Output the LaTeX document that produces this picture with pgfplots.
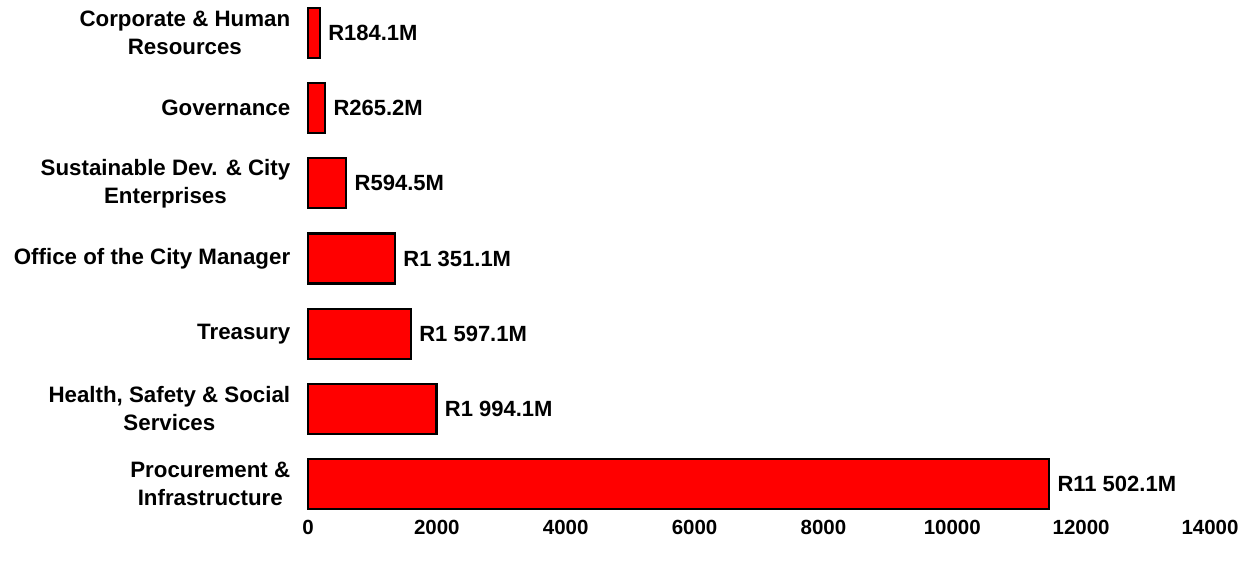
\documentclass[border=0pt]{standalone}
\usepackage{pgfplots}
\pgfplotsset{compat=1.18}
\usepackage{pgfplotstable}
\usepackage{fontspec}
\setmainfont{Liberation Sans}
\pgfplotstableread[col sep=comma]{
idx,val,lab
0,11502.1,R11 502.1M
1,1994.1,R1 994.1M
2,1597.1,R1 597.1M
3,1351.1,R1 351.1M
4,594.5,R594.5M
5,265.2,R265.2M
6,184.1,R184.1M
}\datatable
\begin{document}
\begin{tikzpicture}
\begin{axis}[
  at={(0pt,0pt)}, anchor=south west,
  scale only axis,
  width=902pt, height=511pt,
  xbar, bar width=50pt,
  xmin=0, xmax=14000,
  ymin=-0.4, ymax=6.4,
  xtick={0,2000,4000,6000,8000,10000,12000,14000},
  ytick={0,1,2,3,4,5,6},
  yticklabels={{Procurement \&\\Infrastructure},{Health, Safety \& Social\\Services},{Treasury},{Office of the City Manager},{Sustainable Dev. \& City\\Enterprises},{Governance},{Corporate \& Human\\Resources}},
  scaled x ticks=false,
  /pgf/number format/assume math mode=true,
  /pgf/number format/1000 sep={},
  xticklabel style={font=\fontsize{20.5}{24}\selectfont\bfseries, yshift=-3pt},
  yticklabel style={font=\fontsize{22.3}{28}\selectfont\bfseries, align=center, xshift=-10pt},
  axis line style={draw=none},
  tick style={draw=none},
  nodes near coords,
  point meta=explicit symbolic,
  every node near coord/.style={font=\fontsize{22}{26}\selectfont\bfseries, anchor=west, xshift=4pt},
  clip=false,
]
\addplot[fill=red, draw=black, line width=2.2pt] table[x=val, y=idx, meta=lab, col sep=comma] {\datatable};
\end{axis}
\useasboundingbox (-308pt,-52pt) rectangle (945pt,514pt);
\end{tikzpicture}
\end{document}
